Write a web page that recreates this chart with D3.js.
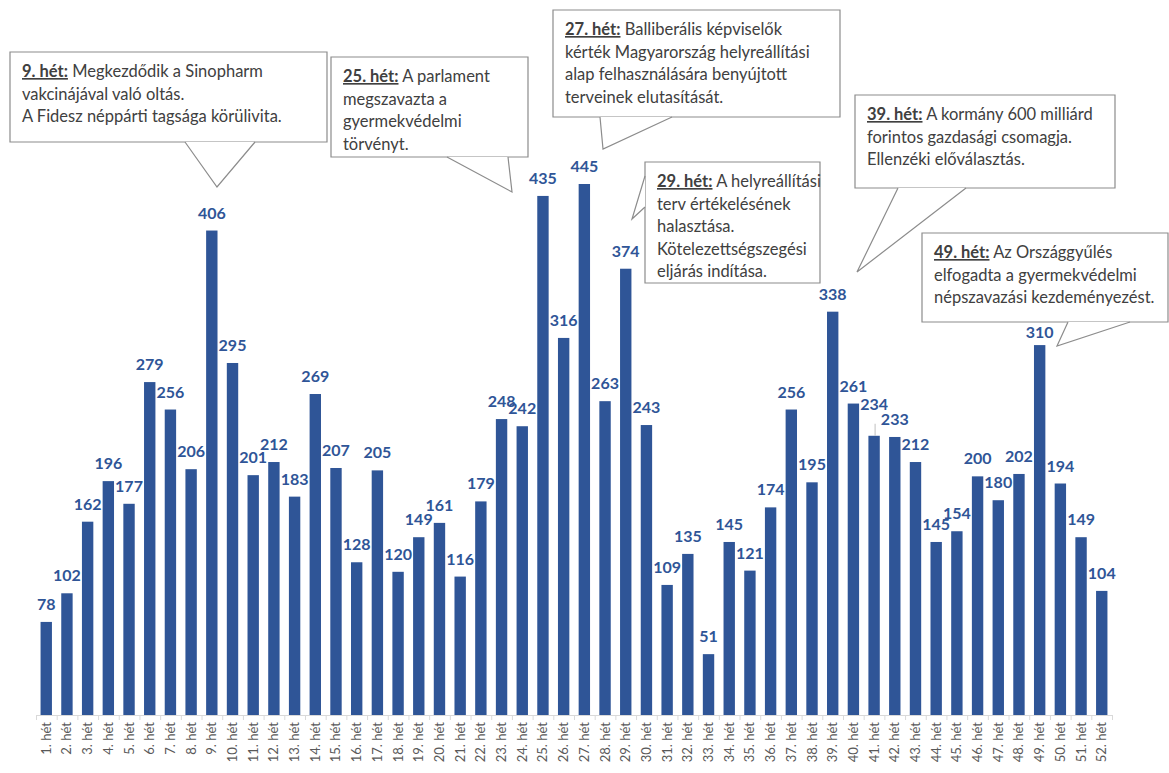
<!DOCTYPE html>
<html>
<head>
<meta charset="utf-8">
<script src="https://cdn.jsdelivr.net/npm/d3@7"></script>
<style>
  body { margin: 0; background: #fff; }
  svg text { font-family: Lato, "Open Sans", sans-serif; }
</style>
</head>
<body>
<svg width="1169" height="773"></svg>
<script>
var weeks = d3.range(1, 53).map(d => d + '. hét');
var values = [78, 102, 162, 196, 177, 279, 256, 206, 406, 295, 201, 212, 183, 269, 207, 128, 205,
  120, 149, 161, 116, 179, 248, 242, 435, 316, 445, 263, 374, 243, 109, 135, 51, 145, 121, 174,
  256, 195, 338, 261, 234, 233, 212, 145, 154, 200, 180, 202, 310, 194, 149, 104];

var noteWeeks = ['9. hét:', '25. hét:', '27. hét:', '29. hét:', '39. hét:', '49. hét:'];
var noteLines = [
  [' Megkezdődik a Sinopharm', 'vakcinájával való oltás.', 'A Fidesz néppárti tagsága körülivita.'],
  [' A parlament', 'megszavazta a', 'gyermekvédelmi', 'törvényt.'],
  [' Balliberális képviselők', 'kérték Magyarország helyreállítási', 'alap felhasználására benyújtott', 'terveinek elutasítását.'],
  [' A helyreállítási', 'terv értékelésének', 'halasztása.', 'Kötelezettségszegési', 'eljárás indítása.'],
  [' A kormány 600 milliárd', 'forintos gazdasági csomagja.', 'Ellenzéki előválasztás.'],
  [' Az Országgyűlés', 'elfogadta a gyermekvédelmi', 'népszavazási kezdeményezést.']
];

// callout layout: box x, y, w, h and pointer polygon (base1, tip, base2)
var noteBoxes = [
  { x: 10, y: 52, w: 317, h: 90, ptr: [[185, 142], [217, 187], [255, 142]] },
  { x: 331, y: 57, w: 197, h: 100, ptr: [[447, 157], [512, 192], [508, 157]] },
  { x: 553, y: 10, w: 287, h: 107, ptr: [[600, 117], [603, 149], [672, 117]] },
  { x: 645, y: 162, w: 175, h: 121, ptr: [[645, 176], [632, 219], [645, 207]] },
  { x: 855, y: 95, w: 260, h: 93, ptr: [[898, 188], [857, 272], [966, 188]] },
  { x: 922, y: 233, w: 246, h: 89, ptr: [[1068, 322], [1057, 346], [1130, 322]] }
];

// value labels nudged up (+) or down (-) in px, by index
var labelLift = { 40: 14, 48: -5 };

var svg = d3.select('svg');
var left = 36, right = 1112, baseY = 715;
var barColor = '#2F5597';

var xScale = d3.scaleBand()
  .domain(weeks)
  .range([left, right])
  .paddingInner(0.45)
  .paddingOuter(0.22);

var yScale = d3.scaleLinear()
  .domain([0, 445])
  .range([baseY, 184]);

// axis line
svg.append('line')
  .attr('x1', left).attr('x2', right)
  .attr('y1', baseY + 0.5).attr('y2', baseY + 0.5)
  .attr('stroke', '#d9d9d9');

// ticks between categories
var step = (right - left) / weeks.length;
svg.selectAll('.tk')
  .data(d3.range(weeks.length + 1))
  .enter()
  .append('line')
  .attr('x1', i => left + i * step + 0.5)
  .attr('x2', i => left + i * step + 0.5)
  .attr('y1', baseY)
  .attr('y2', baseY + 5)
  .attr('stroke', '#d9d9d9');

// category labels
svg.selectAll('.xl')
  .data(weeks)
  .enter()
  .append('text')
  .attr('transform', d => 'translate(' + (xScale(d) + xScale.bandwidth() / 2 + 4.5) + ',' + (baseY + 7) + ') rotate(-90)')
  .attr('text-anchor', 'end')
  .attr('font-size', 13)
  .attr('fill', '#595959')
  .text(d => d);

svg.selectAll('rect.bar')
  .data(values)
  .enter()
  .append('rect')
  .attr('class', 'bar')
  .attr('x', (d, i) => xScale(weeks[i]))
  .attr('y', d => yScale(d))
  .attr('width', xScale.bandwidth())
  .attr('height', d => baseY - yScale(d))
  .attr('fill', barColor);

// leader line for the label lifted clear of its neighbour
[40].forEach(function(i) {
  var cx = xScale(weeks[i]) + xScale.bandwidth() / 2;
  svg.append('line')
    .attr('x1', cx + 1).attr('x2', cx + 1)
    .attr('y1', yScale(values[i]) - labelLift[i] + 2)
    .attr('y2', yScale(values[i]))
    .attr('stroke', '#bfbfbf');
});

svg.selectAll('text.val')
  .data(values)
  .enter()
  .append('text')
  .attr('class', 'val')
  .attr('x', (d, i) => xScale(weeks[i]) + xScale.bandwidth() / 2)
  .attr('y', (d, i) => yScale(d) - 12 - (labelLift[i] || 0))
  .attr('text-anchor', 'middle')
  .attr('font-size', 16)
  .attr('font-weight', 'bold')
  .attr('fill', barColor)
  .text(d => d);

// callouts
noteBoxes.forEach(function(b, k) {
  var g = svg.append('g');
  var p = b.ptr;
  var path = 'M' + b.x + ',' + b.y + 'H' + (b.x + b.w) + 'V' + (b.y + b.h) + 'H' + b.x + 'Z';
  g.append('path')
    .attr('d', path)
    .attr('fill', '#fff')
    .attr('stroke', '#8c8c8c')
    .attr('stroke-width', 1.2);
  // pointer: fill over the edge, then stroke two sides
  g.append('path')
    .attr('d', 'M' + p[0] + 'L' + p[1] + 'L' + p[2] + 'Z')
    .attr('fill', '#fff');
  g.append('path')
    .attr('d', 'M' + p[0] + 'L' + p[1] + 'L' + p[2])
    .attr('fill', 'none')
    .attr('stroke', '#8c8c8c')
    .attr('stroke-width', 1.2);

  var t = g.append('text')
    .attr('x', b.x + 12)
    .attr('y', b.y + 25)
    .attr('font-size', 16.5)
    .attr('fill', '#404040');
  noteLines[k].forEach(function(line, j) {
    if (j === 0) {
      t.append('tspan')
        .attr('font-weight', 'bold')
        .style('text-decoration', 'underline')
        .text(noteWeeks[k]);
      t.append('tspan').text(line);
    } else {
      t.append('tspan')
        .attr('x', b.x + 12)
        .attr('dy', 22.5)
        .text(line);
    }
  });
});
</script>
</body>
</html>
